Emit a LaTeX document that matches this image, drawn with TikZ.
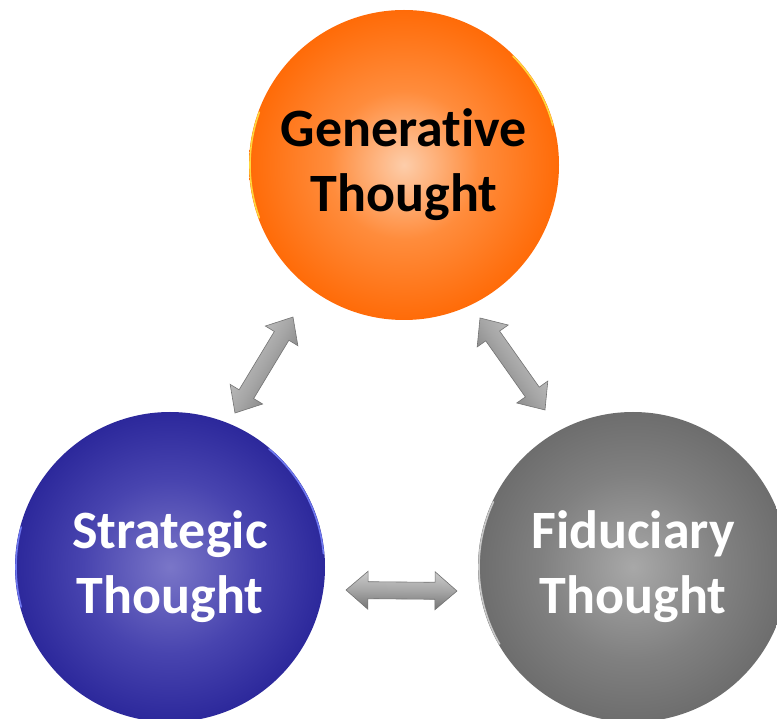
\documentclass[tikz,border=0pt]{standalone}
\usepackage{fontspec}
\setmainfont[Ligatures=NoCommon]{Carlito}
\usetikzlibrary{calc}
\definecolor{oc}{RGB}{253,205,170}
\definecolor{om}{RGB}{255,140,60}
\definecolor{oe}{RGB}{255,102,0}
\definecolor{orim}{RGB}{255,215,60}
\definecolor{bc}{RGB}{122,118,200}
\definecolor{bm}{RGB}{72,68,175}
\definecolor{be}{RGB}{34,30,148}
\definecolor{brim}{RGB}{110,120,240}
\definecolor{gc}{RGB}{168,168,168}
\definecolor{gm}{RGB}{128,128,128}
\definecolor{ge}{RGB}{100,100,100}
\definecolor{grim}{RGB}{200,200,200}
\definecolor{al}{RGB}{205,205,205}
\definecolor{ad}{RGB}{115,115,115}
\pgfdeclareradialshading{ballorange}{\pgfpoint{0bp}{0bp}}{color(0bp)=(oc); color(12bp)=(om); color(27bp)=(oe); color(50bp)=(oe)}
\pgfdeclareradialshading{ballblue}{\pgfpoint{0bp}{0bp}}{color(0bp)=(bc); color(14bp)=(bm); color(29bp)=(be); color(50bp)=(be)}
\pgfdeclareradialshading{ballgray}{\pgfpoint{0bp}{0bp}}{color(0bp)=(gc); color(15bp)=(gm); color(30bp)=(ge); color(50bp)=(ge)}
\makeatletter
\newcommand\dblarr[2]{%
  \pgfmathanglebetweenpoints{\pgfpointanchor{#1}{center}}{\pgfpointanchor{#2}{center}}%
  \edef\arrang{\pgfmathresult}%
  \pgfpointdiff{\pgfpointanchor{#1}{center}}{\pgfpointanchor{#2}{center}}%
  \pgfmathveclen{\pgf@x}{\pgf@y}%
  \edef\arrlen{\pgfmathresult}%
  \begin{scope}[shift={(#1)}, rotate=\arrang]
    \path[arrowbody, shading angle=\arrang] (0,0) -- (22,19) -- (22,8.5) -- (\arrlen-22,8.5) -- (\arrlen-22,19) -- (\arrlen,0) -- (\arrlen-22,-19) -- (\arrlen-22,-8.5) -- (22,-8.5) -- (22,-19) -- cycle;
  \end{scope}}
\makeatother
\tikzset{
  ball/.style={circle, minimum size=310, inner sep=0, font=\bfseries\fontsize{54}{65}\selectfont, align=center},
  arrowbody/.style={draw=ad, line width=0.6, top color=al, bottom color=ad, middle color=gray!70},
  rim/.style={line width=1.6, line cap=round}
}
\begin{document}
\begin{tikzpicture}[x=1pt, y=-1pt]
\useasboundingbox (0,0) rectangle (777,719);
\fill[white] (0,0) rectangle (777,719);
\node[ball, shading=ballorange, text=black] (gen) at (404,165) {Generative\\Thought};
\node[ball, shading=ballblue, text=white] (str) at (170,567) {Strategic\\Thought};
\node[ball, shading=ballgray, text=white] (fid) at (633,567) {Fiduciary\\Thought};
% rim highlights
\draw[rim, orim] ($(gen)+(160:154)$) arc[start angle=160, end angle=200, radius=154];
\draw[rim, orim] ($(gen)+(-15:154)$) arc[start angle=-15, end angle=-45, radius=154];
\draw[rim, brim] ($(str)+(165:154)$) arc[start angle=165, end angle=195, radius=154];
\draw[rim, brim] ($(str)+(-5:154)$) arc[start angle=-5, end angle=-50, radius=154];
\draw[rim, grim] ($(fid)+(150:154)$) arc[start angle=150, end angle=205, radius=154];
% arrow end points
\coordinate (a1s) at (235,413);
\coordinate (a1e) at (293,317);
\coordinate (a2s) at (480,318);
\coordinate (a2e) at (545,410);
\coordinate (a3s) at (346,590);
\coordinate (a3e) at (457,591);
\dblarr{a1s}{a1e}
\dblarr{a2s}{a2e}
\dblarr{a3s}{a3e}
\end{tikzpicture}
\end{document}
